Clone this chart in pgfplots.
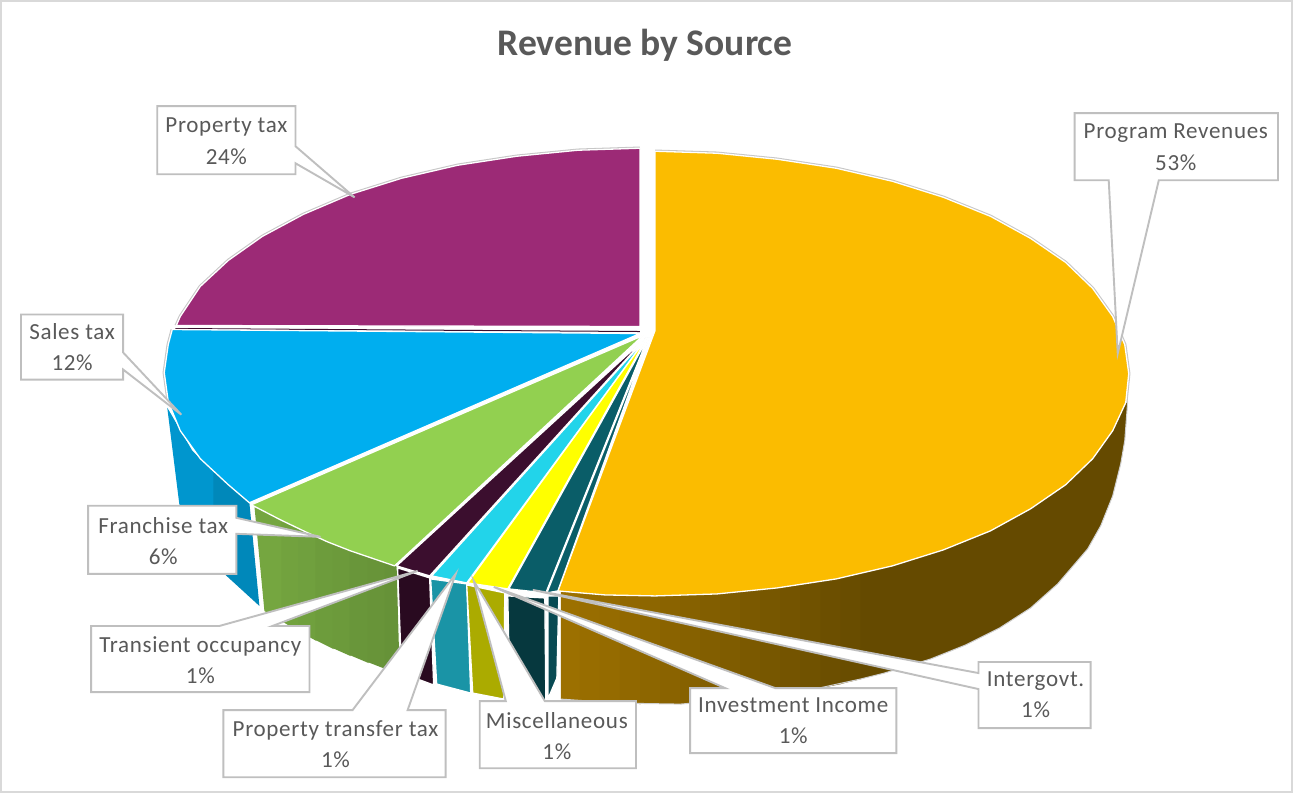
\documentclass[border=0pt]{standalone}
\usepackage{fontspec}
\setmainfont{Carlito}
\newfontfamily\labfont{Carlito}[LetterSpace=3]
\usepackage{pgfplots}
\pgfplotsset{compat=1.18}

\definecolor{gold}{HTML}{FBBC00}
\definecolor{plum}{HTML}{9C2A76}
\definecolor{sky}{HTML}{00AEEF}
\definecolor{leaf}{HTML}{92D050}
\definecolor{wine}{HTML}{3B0E2E}
\definecolor{aqua}{HTML}{22D4EA}
\definecolor{lemon}{HTML}{FFFF00}
\definecolor{teal1}{HTML}{0A5D68}
\definecolor{brownL}{HTML}{9C7000}
\definecolor{brownD}{HTML}{654A00}
\definecolor{edge}{HTML}{BFBFBF}
\definecolor{txt}{HTML}{595959}

% one filled outline, in picture pixels
\newcommand{\slice}[2]{\addplot[fill=#1,draw=white,line width=1.3bp,line join=round] coordinates {#2} -- cycle;}
\newcommand{\strip}[2]{\addplot[fill=#1,draw=none] coordinates {#2} -- cycle;}
\newcommand{\rim}[1]{\addplot[draw=black!22,line width=3.4bp,line join=round] coordinates {#1};}
\newcommand{\callout}[1]{\addplot[fill=white,draw=edge,line width=1.9bp,line join=miter] coordinates {#1} -- cycle;}
\newcommand{\lab}[3]{\node[text=txt,align=center,inner sep=0pt,font=\labfont\fontsize{23bp}{31bp}\selectfont] at (axis cs:#1,#2) {#3};}

\begin{document}
\begin{tikzpicture}
\begin{axis}[
    scale only axis,
    width=1293bp, height=792bp,
    xmin=0, xmax=1293,
    ymin=0, ymax=792,
    y dir=reverse,
    hide axis,
    clip=false,
    no markers
]
% chart frame
\addplot[draw=black!15,line width=2bp] coordinates {(2,1) (1291,1) (1291,791) (2,791)} -- cycle;

% side walls
\strip{sky!86!black}{(168,407) (193,450) (215,472) (215,560) (195,540) (180,503)}
\strip{sky!78!black}{(214,470) (250,502) (260,605) (225,573) (214,561)}
\strip{leaf!80!black}{(255,505) (283,517) (283,621) (265,610)}
\strip{leaf!78!black}{(282,517) (300,526) (300,631) (282,620)}
\strip{leaf!77!black}{(299,526) (317,534) (317,640) (299,630)}
\strip{leaf!75!black}{(316,534) (334,541) (334,648) (316,639)}
\strip{leaf!74!black}{(333,541) (351,548) (351,655) (333,647)}
\strip{leaf!72!black}{(350,548) (369,556) (369,662) (350,654)}
\strip{leaf!71!black}{(368,556) (386,562) (386,668) (368,661)}
\strip{leaf!70!black}{(385,562) (397,565) (400,672) (385,668)}
\slice{wine!70!black}{(398,567) (430,577) (434,684) (402,672)}
\slice{{rgb,255:red,26;green,148;blue,166}}{(431,578) (467,583) (471,692) (437,683)}
\slice{lemon!67!black}{(467,584) (505,592) (504,698) (473,692)}
\slice{teal1!60!black}{(508,595) (545,597) (546,699) (510,695)}
\slice{teal1!80!black}{(548,595) (559,595) (557,677) (548,698)}

% Program Revenues wall, dark towards the right
\strip{brownL}{(561,587) (581,587) (581,700) (561,698)}
\strip{brownL!93!brownD}{(580,587) (601,587) (601,701) (580,700)}
\strip{brownL!87!brownD}{(600,587) (621,587) (621,702) (600,701)}
\strip{brownL!80!brownD}{(620,587) (641,587) (641,703) (620,702)}
\strip{brownL!73!brownD}{(640,587) (661,587) (661,703) (640,703)}
\strip{brownL!67!brownD}{(660,587) (681,587) (681,703) (660,703)}
\strip{brownL!60!brownD}{(680,587) (701,587) (701,702) (680,703)}
\strip{brownL!53!brownD}{(700,587) (721,587) (721,701) (700,702)}
\strip{brownL!47!brownD}{(720,587) (741,587) (741,698) (720,701)}
\strip{brownL!40!brownD}{(740,585) (761,585) (761,695) (740,698)}
\strip{brownL!33!brownD}{(760,585) (781,585) (781,693) (760,695)}
\strip{brownL!27!brownD}{(780,580) (801,580) (801,691) (780,693)}
\strip{brownL!20!brownD}{(800,570) (821,570) (821,687) (800,691)}
\strip{brownL!13!brownD}{(820,570) (841,570) (841,683) (820,687)}
\strip{brownL!7!brownD}{(840,565) (861,565) (861,678) (840,683)}
\strip{brownD}{(860,560) (892,560) (943,545) (990,525) (1030,503) (1065,480) (1092,453) (1112,425) (1127,400) (1124,440) (1120,463) (1112,495) (1100,525) (1087,548) (1057,583) (1030,607) (999,627) (965,644) (930,658) (884,672) (860,678)}
\addplot[draw=black!18,line width=1bp] coordinates {(1127,400) (1124,440) (1120,463) (1112,495) (1100,525) (1087,548) (1057,583) (1030,607) (999,627) (965,644) (930,658) (884,672) (860,678) (800,691) (740,698) (680,703) (620,702) (561,698)};

% grey fringe outside the top faces
\rim{(655,151) (717,153) (777,159) (836,168) (892,181) (943,197) (990,216) (1030,238) (1065,262) (1092,288) (1112,316) (1124,344) (1128,373) (1125,402)}
\rim{(640,148) (578,150) (517,156) (458,165) (402,178) (351,194) (304,214) (263,236) (229,260) (201,286) (181,316) (177,325)}
\rim{(173,329) (169,344) (165,372) (169,401)}

% top faces
\slice{gold}{(655,151) (717,153) (777,159) (836,168) (892,181) (943,197) (990,216) (1030,238) (1065,262) (1092,288) (1112,316) (1124,344) (1128,373) (1125,402) (1112,430) (1092,458) (1065,484) (1030,508) (990,530) (943,549) (892,565) (836,578) (777,587) (717,593) (655,595) (605,594) (558,590) (655,330)}
\slice{plum}{(640,148) (578,150) (517,156) (458,165) (402,178) (351,194) (304,214) (263,236) (229,260) (201,286) (181,316) (177,325) (640,326)}
\addplot[draw=wine,line width=1bp] coordinates {(176,328) (640,331)};
\slice{sky}{(173,329) (169,344) (165,372) (169,401) (181,430) (201,458) (229,484) (250,502) (640,333)}
\slice{leaf}{(252,504) (281,519) (304,530) (328,541) (351,550) (395,565) (643,335)}
\slice{wine}{(397,565) (430,575) (646,337)}
\slice{aqua}{(432,575) (467,582) (647,337)}
\slice{lemon}{(468,582) (508,588) (647,337)}
\slice{teal1}{(509,588) (546,592) (648,337)}
\slice{teal1}{(547,592) (558,590) (649,337)}

% callouts
\callout{(158,106) (296,106) (296,146) (355,197) (296,163) (296,174) (158,174)}
\callout{(22,314) (124,314) (124,352) (182,414) (124,369) (124,379) (22,379)}
\callout{(1074,113) (1277,113) (1277,180) (1158,180) (1117,353) (1108,180) (1074,180)}
\callout{(89,505) (237,505) (237,517) (321,536) (237,533) (237,573) (89,573)}
\callout{(92,625) (220,625) (418,570) (273,625) (310,625) (310,691) (92,691)}
\callout{(224,709) (353,709) (456,573) (408,709) (446,709) (446,776) (224,776)}
\callout{(480,700) (506,700) (474,580) (545,700) (636,700) (636,767) (480,767)}
\callout{(690,687) (725,687) (494,586) (775,687) (896,687) (896,752) (690,752)}
\callout{(978,661) (1090,661) (1090,727) (978,727) (978,688) (533,589) (978,672)}

% text
\node[text=txt,inner sep=0pt,font=\fontsize{37.5bp}{40bp}\selectfont\bfseries] at (axis cs:645,45) {Revenue by Source};
\lab{227}{141}{Property tax\\24\%}
\lab{73}{347}{Sales tax\\12\%}
\lab{1175}{147}{Program Revenues\\53\%}
\lab{164}{540}{Franchise tax\\6\%}
\lab{201}{659}{Transient occupancy\\1\%}
\lab{336}{743}{Property transfer tax\\1\%}
\lab{557}{735}{Miscellaneous\\1\%}
\lab{793}{720}{Investment Income\\1\%}
\lab{1035}{694}{Intergovt.\\1\%}
\end{axis}
\end{tikzpicture}
\end{document}
